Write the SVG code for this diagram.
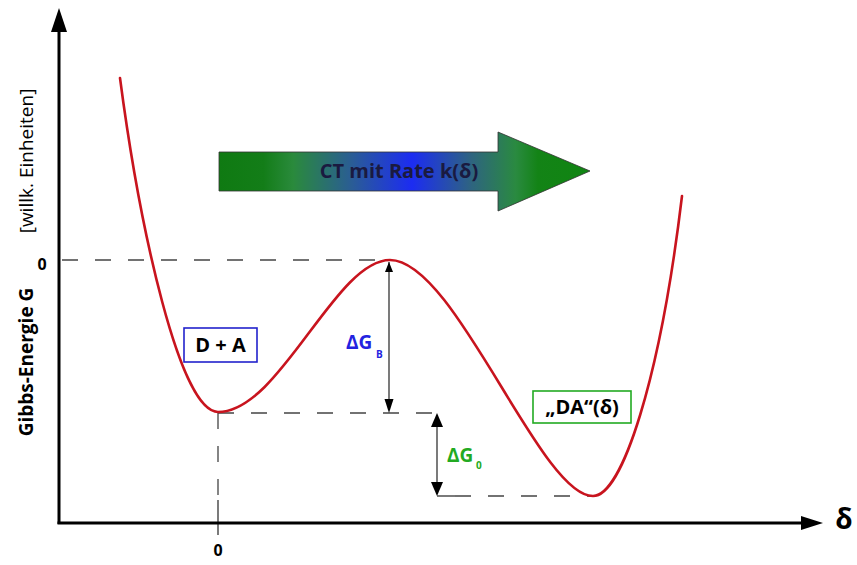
<svg xmlns="http://www.w3.org/2000/svg" width="857" height="565" viewBox="0 0 857 565">
<defs>
<style>
.ax{stroke:#000;stroke-width:3;fill:none}
.dash{stroke:#444;stroke-width:1.3;stroke-dasharray:16 17;fill:none}
.thin{stroke:#222;stroke-width:1.2;fill:none}
.curve{stroke:#c8141e;stroke-width:2.6;fill:none;stroke-linecap:round}
.t{font-family:"Open Sans","Liberation Sans",Arial,sans-serif;font-weight:bold}
.lbl{font-size:20px;fill:#000;text-anchor:middle}
</style>
<linearGradient id="ctg" x1="219" y1="0" x2="590" y2="0" gradientUnits="userSpaceOnUse">
<stop offset="0" stop-color="#0f7a12"/>
<stop offset="0.12" stop-color="#137d18"/>
<stop offset="0.2" stop-color="#2a8a3c"/>
<stop offset="0.36" stop-color="#2a5c96"/>
<stop offset="0.52" stop-color="#1c2cf2"/>
<stop offset="0.68" stop-color="#2e6480"/>
<stop offset="0.8" stop-color="#2a8a40"/>
<stop offset="0.86" stop-color="#138316"/>
<stop offset="1" stop-color="#108512"/>
</linearGradient>
</defs>
<rect width="857" height="565" fill="#fff"/>

<g id="connectors">
<line class="dash" x1="62" y1="260" x2="390" y2="260"/>
<line class="dash" x1="218" y1="413" x2="437" y2="413"/>
<line class="dash" x1="455" y1="496" x2="593" y2="496"/>
<line class="thin" x1="437" y1="496" x2="455" y2="496"/>
<line class="dash" x1="218" y1="413" x2="218" y2="500"/>
<line class="thin" x1="218" y1="500" x2="218" y2="535"/>
<line class="thin" x1="389" y1="262" x2="389" y2="402"/>
<polygon points="389,413 384.5,399 393.5,399" fill="#000"/>
<polygon points="389,262 385,272 393,272" fill="#000"/>
<line class="thin" x1="437" y1="420" x2="437" y2="490"/>
<polygon points="437,413 431,427 443,427" fill="#000"/>
<polygon points="437,496 431,482 443,482" fill="#000"/>
</g>

<g id="axes">
<line class="ax" x1="59" y1="28" x2="59" y2="524"/>
<polygon points="59,8 51,32 67,32" fill="#000"/>
<line class="ax" x1="57.5" y1="523" x2="805" y2="523"/>
<polygon points="823,523 801,516 801,530" fill="#000"/>
<text class="t" x="844" y="529" font-size="28" text-anchor="middle">δ</text>
<text class="t" x="218" y="556" font-size="16" text-anchor="middle">0</text>
<text class="t" x="42" y="270" font-size="16" text-anchor="middle">0</text>
<text class="t" transform="translate(33,362) rotate(-90)" font-size="19" text-anchor="middle">Gibbs-Energie G</text>
<text transform="translate(33,161) rotate(-90)" font-family="Open Sans,Liberation Sans,Arial,sans-serif" font-size="19" text-anchor="middle">[willk. Einheiten]</text>
</g>

<g id="curve">
<path class="curve" d="M120,78 C140,230 180,412 218,412 C280,412 335,260 390,260 C455,260 540,496 593,496 C622,496 660,380 682,196"/>
</g>

<g id="ct-arrow">
<polygon points="219,152 498,152 498,132 590,171 498,211 498,191 219,191" fill="url(#ctg)" stroke="#333" stroke-width="0.8"/>
<text class="t" x="399" y="178" font-size="20" fill="#1a1a40" text-anchor="middle">CT mit Rate k(δ)</text>
</g>

<g id="node-da-plus">
<rect x="184" y="328" width="73" height="34" fill="#fff" stroke="#2222cc" stroke-width="1.6"/>
<text class="t lbl" x="220.5" y="352">D + A</text>
</g>

<g id="node-da">
<rect x="533" y="391" width="98" height="32" fill="#fff" stroke="#22aa22" stroke-width="1.6"/>
<text class="t lbl" x="582" y="414">„DA“(δ)</text>
</g>

<g id="label-gb">
<text class="t" x="346" y="349" font-size="19" fill="#2323e0">ΔG</text>
<text class="t" x="376" y="358" font-size="10" fill="#2323e0">B</text>
</g>

<g id="label-g0">
<text class="t" x="447" y="462" font-size="19" fill="#22aa22">ΔG</text>
<text class="t" x="476" y="469" font-size="10" fill="#22aa22">0</text>
</g>
</svg>
